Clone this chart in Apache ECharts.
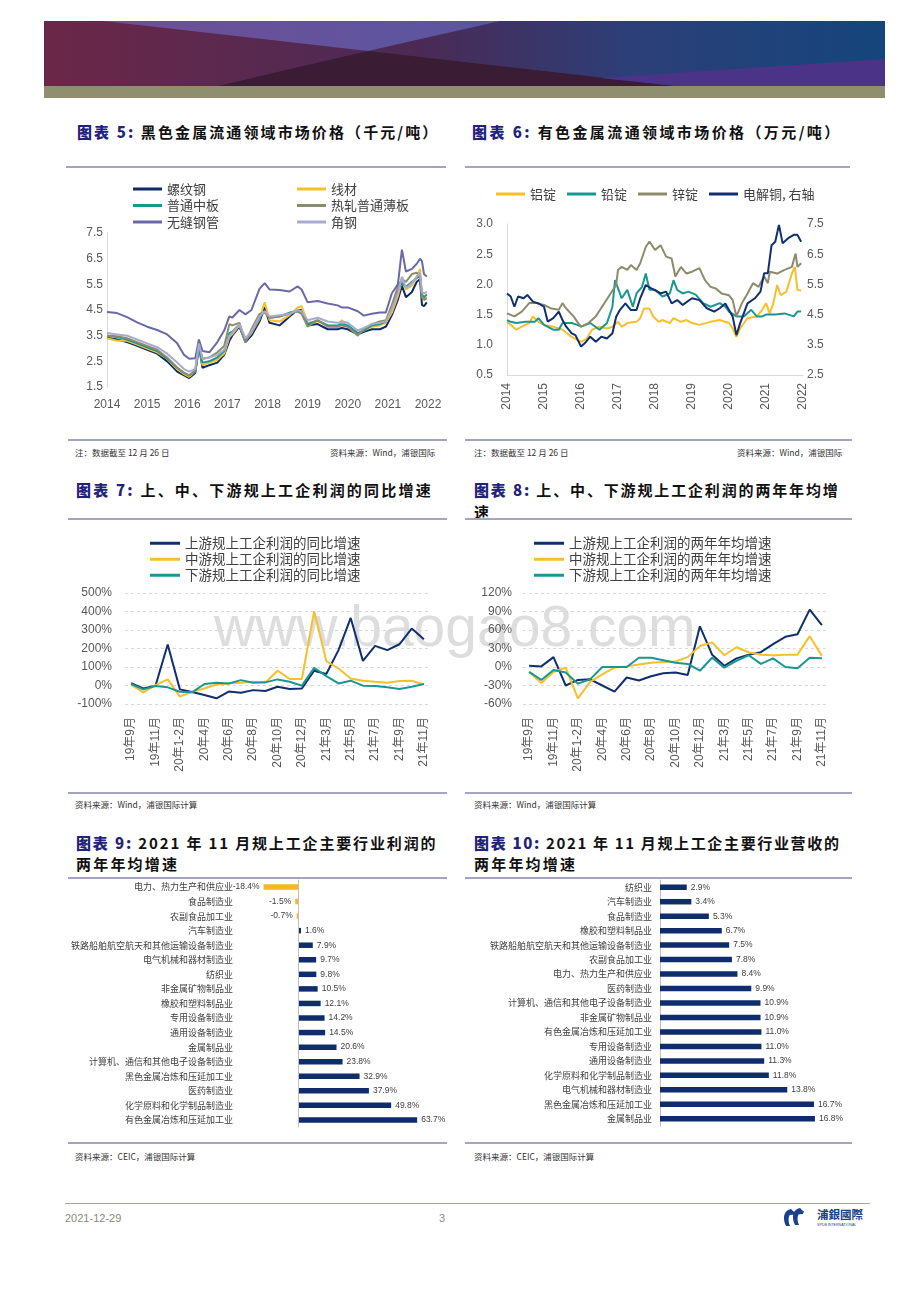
<!DOCTYPE html>
<html><head><meta charset="utf-8">
<script src="https://cdn.jsdelivr.net/npm/echarts@6/dist/echarts.min.js"></script>
<style>
html,body{margin:0;padding:0;background:#fff;width:920px;height:1302px;overflow:hidden;position:relative;font-family:"Noto Sans CJK SC","Liberation Sans",sans-serif;}
.t{position:absolute;white-space:nowrap;line-height:1;transform:translateY(-50%);}
.title{font-size:15px;font-weight:bold;color:#111;letter-spacing:2.2px;}
.title b{color:#1f237a;}
.note{font-size:8.5px;color:#333;}
.hl{position:absolute;height:1.5px;background:#a3a3c2;}
#chart{position:absolute;left:0;top:0;width:920px;height:1302px;}
#wm{position:absolute;left:214px;top:598px;font-family:"Liberation Sans",sans-serif;font-size:57px;color:#dddddd;line-height:1;}
</style></head>
<body>
<svg style="position:absolute;left:0;top:0" width="920" height="110">
 <defs>
  <linearGradient id="bg" x1="0" x2="1" y1="0" y2="0">
   <stop offset="0" stop-color="#6b2748"/><stop offset="0.45" stop-color="#4a2a55"/><stop offset="0.7" stop-color="#2c3f78"/><stop offset="1" stop-color="#15457c"/>
  </linearGradient>
  <linearGradient id="tp" x1="0" x2="1" y1="0" y2="0">
   <stop offset="0" stop-color="#6e4f94"/><stop offset="1" stop-color="#5a56a2"/>
  </linearGradient>
 </defs>
 <rect x="44" y="21" width="841" height="65" fill="url(#bg)"/>
 <polygon points="103,21 500,21 368,51" fill="url(#tp)"/>
 <polygon points="218,86 676,86 368,51" fill="#3a1c34"/>
 <polygon points="600,78 885,59 885,86 676,86" fill="#4b3488"/>
 <rect x="44" y="86" width="841" height="12" fill="#8f8f6f"/>
</svg>
<div id="wm">www.baogao8.com</div>

<div class="t title" style="left:77px;top:131px;letter-spacing:2.1px"><b>图表 5:</b> 黑色金属流通领域市场价格（千元/吨）</div>
<div class="t title" style="left:472px;top:131px;letter-spacing:2.4px"><b>图表 6:</b> 有色金属流通领域市场价格（万元/吨）</div>
<div class="hl" style="left:66px;top:166px;width:380px"></div>
<div class="hl" style="left:465px;top:166px;width:385px"></div>

<div class="hl" style="left:68px;top:439px;width:379px"></div>
<div class="hl" style="left:465px;top:439px;width:387px"></div>
<div class="t note" style="left:75px;top:452px">注：数据截至 12 月 26 日</div>
<div class="t note" style="left:330px;top:452px;width:103px;text-align:right">资料来源：Wind，浦银国际</div>
<div class="t note" style="left:474px;top:452px">注：数据截至 12 月 26 日</div>
<div class="t note" style="left:737px;top:452px;width:103px;text-align:right">资料来源：Wind，浦银国际</div>

<div class="t title" style="left:76px;top:489px;letter-spacing:2.2px"><b>图表 7:</b> 上、中、下游规上工企利润的同比增速</div>
<div class="t title" style="left:474px;top:489px;letter-spacing:1.85px"><b>图表 8:</b> 上、中、下游规上工企利润的两年年均增</div>
<div class="t title" style="left:474px;top:511px">速</div>
<div class="hl" style="left:68px;top:518px;width:379px"></div>
<div class="hl" style="left:465px;top:518px;width:387px"></div>

<div class="hl" style="left:68px;top:792px;width:379px"></div>
<div class="hl" style="left:465px;top:792px;width:387px"></div>
<div class="t note" style="left:75px;top:804px">资料来源：Wind，浦银国际计算</div>
<div class="t note" style="left:474px;top:804px">资料来源：Wind，浦银国际计算</div>

<div class="t title" style="left:76px;top:842px;letter-spacing:1.85px"><b>图表 9:</b> 2021 年 11 月规上工企主要行业利润的</div>
<div class="t title" style="left:76px;top:863px">两年年均增速</div>
<div class="t title" style="left:474px;top:842px;letter-spacing:1.65px"><b>图表 10:</b> 2021 年 11 月规上工企主要行业营收的</div>
<div class="t title" style="left:474px;top:863px">两年年均增速</div>
<div class="hl" style="left:68px;top:877px;width:379px"></div>
<div class="hl" style="left:465px;top:877px;width:387px"></div>

<div class="hl" style="left:68px;top:1142px;width:379px"></div>
<div class="hl" style="left:465px;top:1142px;width:387px"></div>
<div class="t note" style="left:75px;top:1156px">资料来源：CEIC，浦银国际计算</div>
<div class="t note" style="left:474px;top:1156px">资料来源：CEIC，浦银国际计算</div>

<div style="position:absolute;left:65px;top:1203px;width:805px;height:1px;background:#a9a994"></div>
<div class="t" style="left:65px;top:1218px;font-family:'Liberation Sans Narrow','Liberation Sans';font-size:11px;color:#8a8a78">2021-12-29</div>
<div class="t" style="left:439px;top:1218px;font-family:'Liberation Sans';font-size:11px;color:#8a8a78">3</div>
<svg style="position:absolute;left:780px;top:1204px" width="95" height="28">
 <path d="M11,5 C4,6 2,14 6,22 L10,22 C7,15 9,9 14,8 Z" fill="#1c3f8c"/>
 <path d="M20,4 C13,5 11,13 15,21 L19,21 C16,14 18,8 23,7 Z" fill="#1c3f8c"/>
 <path d="M11,8 L24,7 L23,10 L10,11 Z" fill="#1c3f8c"/>
 <text x="37" y="15" font-family="Noto Sans CJK TC" font-weight="bold" font-size="11.5" fill="#1c3f8c">浦銀國際</text>
 <text x="37" y="22" font-family="Liberation Sans" font-size="3.6" fill="#1c3f8c">SPDB INTERNATIONAL</text>
</svg>

<div id="chart"></div>
<script>
// ---------- Chart 5: 黑色金属流通领域市场价格 (千元/吨) ----------
const steelX = [2014.0,2014.25,2014.5,2014.75,2015.0,2015.25,2015.5,2015.75,2015.92,2016.05,2016.2,2016.29,2016.38,2016.55,2016.75,2016.92,2017.05,2017.12,2017.3,2017.45,2017.6,2017.8,2017.93,2018.05,2018.3,2018.55,2018.75,2018.85,2019.0,2019.25,2019.5,2019.75,2019.85,2020.0,2020.25,2020.4,2020.6,2020.8,2020.95,2021.1,2021.25,2021.35,2021.45,2021.6,2021.72,2021.8,2021.85,2021.9,2021.97];
const rebar = [3.42,3.35,3.25,3.1,2.95,2.8,2.5,2.1,1.95,1.85,2.05,3.1,2.25,2.35,2.45,2.75,3.3,3.5,3.85,3.25,3.5,4.05,4.6,4.0,3.9,4.25,4.5,4.5,3.9,3.95,3.75,3.75,3.8,3.75,3.55,3.65,3.75,3.75,3.85,4.3,4.9,5.45,5.0,5.2,5.6,5.7,4.7,4.65,4.8];
const wireRod = [3.4,3.3,3.3,3.15,3.0,2.85,2.6,2.2,2.0,1.9,2.1,3.15,2.35,2.45,2.55,2.8,3.45,3.55,3.9,3.3,3.6,4.15,4.8,4.1,4.05,4.3,4.6,4.65,4.0,4.05,3.9,3.85,4.1,3.85,3.6,3.7,3.85,3.9,4.0,4.4,5.05,5.65,5.3,5.45,5.8,6.1,5.0,4.9,5.0];
const midPlate = [3.5,3.45,3.35,3.2,3.05,2.9,2.6,2.25,2.05,1.95,2.1,3.0,2.45,2.5,2.65,2.9,3.6,3.65,3.95,3.3,3.65,4.2,4.45,4.2,4.25,4.4,4.45,4.4,3.95,4.1,3.9,3.9,3.95,3.9,3.6,3.7,3.9,3.95,4.05,4.6,5.3,5.55,5.4,5.6,5.75,5.8,5.1,5.0,5.1];
const hotSheet = [3.5,3.48,3.4,3.25,3.1,2.95,2.65,2.25,2.05,1.95,2.15,3.15,2.6,2.65,2.85,3.1,3.95,3.9,4.0,3.25,3.75,4.35,4.4,4.2,4.25,4.35,4.45,4.35,3.85,4.1,3.85,3.85,3.9,3.85,3.5,3.75,3.95,4.05,4.1,4.7,5.4,5.7,5.6,5.9,5.95,5.85,5.0,4.9,4.95];
const seamlessPipe = [4.42,4.38,4.22,4.02,3.85,3.72,3.55,3.2,2.75,2.6,2.62,3.35,2.9,2.85,3.25,3.7,4.25,4.2,4.5,4.33,4.5,5.32,5.55,5.3,5.28,5.22,5.42,5.3,4.8,4.85,4.75,4.68,4.6,4.6,4.45,4.28,4.35,4.4,4.4,5.15,5.5,6.85,6.0,6.1,6.3,6.5,6.4,5.9,5.8];
const angleSteel = [3.6,3.55,3.5,3.35,3.2,3.05,2.8,2.45,2.2,2.1,2.2,3.2,2.6,2.65,2.75,2.95,3.5,3.6,3.95,3.4,3.65,4.25,4.45,4.25,4.3,4.35,4.5,4.45,4.1,4.2,4.05,4.0,4.05,4.0,3.7,3.8,3.95,4.0,4.05,4.55,5.15,5.8,5.35,5.55,5.8,5.95,5.2,5.15,5.2];

// ---------- Chart 6: 有色金属流通领域市场价格 (万元/吨) ----------
const alX = [2014.0,2014.1,2014.25,2014.4,2014.6,2014.7,2014.85,2015.0,2015.25,2015.5,2015.75,2015.9,2016.0,2016.15,2016.3,2016.5,2016.7,2016.85,2017.0,2017.1,2017.25,2017.5,2017.6,2017.7,2017.85,2017.95,2018.1,2018.2,2018.4,2018.5,2018.7,2018.85,2019.0,2019.2,2019.5,2019.75,2020.0,2020.1,2020.2,2020.3,2020.5,2020.75,2020.9,2021.0,2021.1,2021.2,2021.3,2021.4,2021.55,2021.7,2021.78,2021.85,2021.95];
const alY = [1.38,1.33,1.25,1.3,1.36,1.47,1.38,1.33,1.3,1.25,1.13,1.08,1.05,1.1,1.25,1.3,1.27,1.3,1.38,1.3,1.36,1.38,1.44,1.6,1.6,1.47,1.38,1.41,1.36,1.44,1.38,1.41,1.36,1.33,1.38,1.41,1.36,1.27,1.13,1.27,1.44,1.47,1.58,1.69,1.52,1.69,1.99,1.82,1.88,2.18,2.29,1.91,1.9];
const pbX = [2014.0,2014.1,2014.25,2014.5,2014.75,2014.85,2015.0,2015.25,2015.4,2015.5,2015.75,2015.9,2016.0,2016.25,2016.5,2016.7,2016.85,2016.92,2017.1,2017.25,2017.4,2017.5,2017.65,2017.75,2017.85,2018.0,2018.2,2018.4,2018.5,2018.6,2018.75,2018.9,2019.1,2019.3,2019.5,2019.75,2019.9,2020.0,2020.2,2020.4,2020.6,2020.75,2020.9,2021.0,2021.25,2021.5,2021.75,2021.85,2021.95];
const pbY = [1.41,1.38,1.36,1.38,1.38,1.44,1.33,1.25,1.25,1.36,1.36,1.33,1.3,1.36,1.25,1.36,1.63,2.07,1.77,1.91,1.63,1.85,1.96,2.18,1.91,1.91,1.8,1.85,2.07,1.91,1.85,1.88,1.83,1.69,1.63,1.69,1.63,1.55,1.47,1.47,1.58,1.47,1.47,1.5,1.5,1.52,1.47,1.55,1.55];
const znX = [2014.0,2014.2,2014.4,2014.6,2014.8,2015.0,2015.2,2015.4,2015.5,2015.6,2015.8,2015.9,2016.0,2016.2,2016.4,2016.6,2016.8,2016.95,2017.0,2017.1,2017.25,2017.35,2017.5,2017.6,2017.75,2017.85,2018.0,2018.15,2018.3,2018.45,2018.55,2018.7,2018.85,2019.0,2019.2,2019.35,2019.5,2019.65,2019.8,2020.0,2020.1,2020.2,2020.35,2020.5,2020.65,2020.8,2020.95,2021.05,2021.1,2021.3,2021.5,2021.7,2021.8,2021.85,2021.95];
const znY = [1.52,1.47,1.55,1.69,1.69,1.66,1.6,1.58,1.69,1.6,1.47,1.38,1.3,1.36,1.47,1.66,1.85,1.99,2.24,2.29,2.24,2.32,2.24,2.35,2.62,2.71,2.57,2.65,2.46,2.43,2.13,2.29,2.18,2.21,2.27,2.07,1.96,1.93,1.85,1.82,1.74,1.47,1.69,1.85,2.02,1.96,2.13,2.02,2.21,2.18,2.24,2.29,2.51,2.29,2.35];
const cuX = [2014.0,2014.1,2014.2,2014.3,2014.45,2014.55,2014.7,2014.85,2015.0,2015.1,2015.25,2015.4,2015.5,2015.6,2015.75,2015.85,2016.0,2016.1,2016.25,2016.4,2016.55,2016.7,2016.85,2016.95,2017.05,2017.2,2017.35,2017.5,2017.6,2017.75,2017.9,2018.0,2018.15,2018.3,2018.45,2018.6,2018.75,2019.0,2019.2,2019.4,2019.6,2019.75,2019.9,2020.0,2020.1,2020.2,2020.3,2020.5,2020.7,2020.85,2020.95,2021.05,2021.15,2021.25,2021.35,2021.45,2021.6,2021.75,2021.85,2021.95];
const cuY = [5.2,5.1,4.76,5.1,5.04,5.15,4.93,4.87,4.76,4.27,4.38,4.6,4.32,4.1,3.88,3.82,3.44,3.55,3.77,3.6,3.77,3.71,3.88,4.43,4.65,4.87,4.65,4.65,5.04,5.48,5.37,5.31,5.2,5.26,4.87,4.98,4.82,5.04,4.98,4.71,4.6,4.71,4.87,4.65,4.43,3.82,4.21,4.87,5.04,5.26,5.87,5.87,6.8,6.91,7.47,6.86,7.03,7.14,7.14,6.91];

// ---------- Charts 7 & 8 ----------
const months = ['19年9月','19年10月','19年11月','19年12月','20年1-2月','20年3月','20年4月','20年5月','20年6月','20年7月','20年8月','20年9月','20年10月','20年11月','20年12月','21年1-2月','21年3月','21年4月','21年5月','21年6月','21年7月','21年8月','21年9月','21年10月','21年11月'];
const upYoY = [12,-16,-1,222,-21,-35,-51,-69,-33,-39,-25,-30,-7,-19,-16,80,62,191,365,133,214,191,223,308,250];
const midYoY = [5,-37,2,33,-60,-34,-16,5,11,15,20,15,80,35,35,401,132,92,38,26,20,15,24,26,5];
const downYoY = [8,-21,-3,-10,-34,-37,8,15,11,29,15,17,33,20,-1,96,51,11,26,-1,-3,-10,-19,-7,8];
const up2Y = [2,1,16,-30,-21,-20,-30,-40,-17,-22,-15,-10,-9,-13,66,20,2,14,20,24,37,49,53,93,68];
const mid2Y = [-8,-26,-8,-1,-51,-24,-12,-1,1,4,7,8,9,16,34,40,19,32,24,20,19,20,20,50,18];
const down2Y = [-8,-21,-5,-9,-27,-20,0,0,0,15,15,11,7,5,-6,15,-1,10,19,5,14,0,-2,15,14];

// ---------- Chart 9: 利润两年年均增速 ----------
const profitInd = ['电力、热力生产和供应业','食品制造业','农副食品加工业','汽车制造业','铁路船舶航空航天和其他运输设备制造业','电气机械和器材制造业','纺织业','非金属矿物制品业','橡胶和塑料制品业','专用设备制造业','通用设备制造业','金属制品业','计算机、通信和其他电子设备制造业','黑色金属冶炼和压延加工业','医药制造业','化学原料和化学制品制造业','有色金属冶炼和压延加工业'];
const profitVal = [-18.4,-1.5,-0.7,1.6,7.9,9.7,9.8,10.5,12.1,14.2,14.5,20.6,23.8,32.9,37.9,49.8,63.7];

// ---------- Chart 10: 营收两年年均增速 ----------
const revInd = ['纺织业','汽车制造业','食品制造业','橡胶和塑料制品业','铁路船舶航空航天和其他运输设备制造业','农副食品加工业','电力、热力生产和供应业','医药制造业','计算机、通信和其他电子设备制造业','非金属矿物制品业','有色金属冶炼和压延加工业','专用设备制造业','通用设备制造业','化学原料和化学制品制造业','电气机械和器材制造业','黑色金属冶炼和压延加工业','金属制品业'];
const revVal = [2.9,3.4,5.3,6.7,7.5,7.8,8.4,9.9,10.9,10.9,11.0,11.0,11.3,11.8,13.8,16.7,16.8];

// colours
const NAVY='#102f6e', YEL='#f5c02a', TEAL='#1a9890', OLIVE='#8c8c6c', PURP='#6a69a6', LAV='#aaaad0';

function zip(xs, ys){ return xs.map((x,i)=>[x, ys[i]]); }
function line(name, data, color, xi, yi, w){
  return {type:'line', name, data, xAxisIndex:xi, yAxisIndex:yi, symbol:'none', showSymbol:false,
    lineStyle:{color, width:w||2}, itemStyle:{color}, emphasis:{disabled:true}, animation:false};
}
const FONT = "'Liberation Sans','Noto Sans CJK SC',sans-serif";
const axLbl = {color:'#595959', fontSize:12, fontFamily:FONT};
const noAx = {axisLine:{show:false}, axisTick:{show:false}, splitLine:{show:false}};
const greyLine = {show:true, lineStyle:{color:'#d9d9d9', width:1}};
const legBase = {orient:'vertical', icon:'rect', itemWidth:29, itemHeight:3, itemGap:2.5, padding:0, selectedMode:false,
  itemStyle:{borderWidth:0}, textStyle:{fontSize:13, lineHeight:14, color:'#404040', fontFamily:"'Noto Sans CJK SC'"}};
const legBig = Object.assign({}, legBase, {itemWidth:30, itemGap:1.5, textStyle:{fontSize:13.5, lineHeight:14.5, color:'#404040', fontFamily:"'Noto Sans CJK SC'"}});

const chart = echarts.init(document.getElementById('chart'), null, {renderer:'canvas'});
const option = {
  animation:false,
  textStyle:{fontFamily:FONT},
  grid:[
    {left:107, top:233, width:321, height:154, outerBoundsMode:'none'},
    {left:507, top:224, width:296, height:151, outerBoundsMode:'none'},
    {left:125, top:593, width:305, height:111, outerBoundsMode:'none'},
    {left:523, top:593, width:305, height:111, outerBoundsMode:'none'},
    {left:260.6, top:879.7, width:159, height:247.5, outerBoundsMode:'none'},
    {left:660, top:880, width:166, height:246, outerBoundsMode:'none'}
  ],
  legend:[
    Object.assign({}, legBase, {left:133, top:182, data:['螺纹钢','普通中板','无缝钢管']}),
    Object.assign({}, legBase, {left:297, top:182, data:['线材','热轧普通薄板','角钢']}),
    Object.assign({}, legBase, {orient:'horizontal', left:496, top:187, itemGap:11, data:['铝锭','铅锭','锌锭','电解铜, 右轴']}),
    Object.assign({}, legBig, {left:150, top:536, data:['上游规上工企利润的同比增速','中游规上工企利润的同比增速','下游规上工企利润的同比增速']}),
    Object.assign({}, legBig, {left:534, top:536, data:['上游规上工企利润的两年年均增速','中游规上工企利润的两年年均增速','下游规上工企利润的两年年均增速']})
  ],
  xAxis:[
    Object.assign({gridIndex:0, type:'value', min:2014, max:2022, interval:1, axisLabel:Object.assign({margin:12, formatter:v=>v.toFixed(0)}, axLbl)}, noAx),
    Object.assign({}, noAx, {gridIndex:1, type:'value', min:2014, max:2022, interval:1, axisLine:greyLine, axisLabel:Object.assign({rotate:90, margin:8, formatter:v=>v.toFixed(0)}, axLbl)}),
    Object.assign({}, noAx, {gridIndex:2, type:'category', data:months, boundaryGap:true, axisLabel:Object.assign({rotate:90, interval:1, margin:13}, axLbl)}),
    Object.assign({}, noAx, {gridIndex:3, type:'category', data:months, boundaryGap:true, axisLabel:Object.assign({rotate:90, interval:1, margin:13}, axLbl)}),
    {gridIndex:4, type:'value', min:-20, max:65, show:false},
    {gridIndex:5, type:'value', min:0, max:18, show:false}
  ],
  yAxis:[
    Object.assign({}, noAx, {gridIndex:0, type:'value', min:1.5, max:7.5, interval:1, axisLine:greyLine, axisLabel:Object.assign({margin:4, formatter:v=>v.toFixed(1)}, axLbl)}),
    Object.assign({}, noAx, {gridIndex:1, type:'value', min:0.5, max:3.0, interval:0.5, axisLine:greyLine, axisLabel:Object.assign({margin:14, formatter:v=>v.toFixed(1)}, axLbl)}),
    Object.assign({}, noAx, {gridIndex:1, type:'value', position:'right', min:2.5, max:7.5, interval:1, axisLabel:Object.assign({margin:4, formatter:v=>v.toFixed(1)}, axLbl)}),
    Object.assign({}, noAx, {gridIndex:2, type:'value', min:-100, max:500, interval:100, splitLine:{show:true, lineStyle:{color:'#d9d9d9', type:[3,3]}}, axisLabel:Object.assign({margin:13, formatter:v=>v+'%'}, axLbl)}),
    Object.assign({}, noAx, {gridIndex:3, type:'value', min:-60, max:120, interval:30, splitLine:{show:true, lineStyle:{color:'#d9d9d9', type:[3,3]}}, axisLabel:Object.assign({margin:11, formatter:v=>v+'%'}, axLbl)}),
    Object.assign({}, noAx, {gridIndex:4, type:'category', data:profitInd, inverse:true, axisLabel:{margin:27.6, fontSize:9, color:'#404040', fontFamily:"'Noto Sans CJK SC'"}}),
    Object.assign({}, noAx, {gridIndex:5, type:'category', data:revInd, inverse:true, axisLine:{show:true, onZero:false, lineStyle:{color:'#bfbfbf'}}, axisLabel:{margin:8, fontSize:9, color:'#404040', fontFamily:"'Noto Sans CJK SC'"}})
  ],
  series:[
    line('螺纹钢', zip(steelX, rebar), '#0f2a66', 0, 0),
    line('线材', zip(steelX, wireRod), YEL, 0, 0),
    line('普通中板', zip(steelX, midPlate), TEAL, 0, 0),
    line('热轧普通薄板', zip(steelX, hotSheet), OLIVE, 0, 0),
    line('无缝钢管', zip(steelX, seamlessPipe), PURP, 0, 0),
    line('角钢', zip(steelX, angleSteel), LAV, 0, 0),
    line('铝锭', zip(alX, alY), YEL, 1, 1),
    line('铅锭', zip(pbX, pbY), TEAL, 1, 1),
    line('锌锭', zip(znX, znY), OLIVE, 1, 1),
    line('电解铜, 右轴', zip(cuX, cuY), NAVY, 1, 2),
    line('上游规上工企利润的同比增速', upYoY, NAVY, 2, 3),
    line('中游规上工企利润的同比增速', midYoY, YEL, 2, 3),
    line('下游规上工企利润的同比增速', downYoY, TEAL, 2, 3),
    line('上游规上工企利润的两年年均增速', up2Y, NAVY, 3, 4),
    line('中游规上工企利润的两年年均增速', mid2Y, YEL, 3, 4),
    line('下游规上工企利润的两年年均增速', down2Y, TEAL, 3, 4),
    {type:'bar', xAxisIndex:4, yAxisIndex:5, barWidth:5.5, animation:false,
     data: profitVal.map(v=>({value:v, itemStyle:{color: v<0 ? '#f5b820' : '#0f2d6c'}, label:{position: v<0 ? 'left' : 'right'}})),
     label:{show:true, distance:4, fontSize:8.5, color:'#404040', fontFamily:"'Liberation Sans'", formatter:p=>p.value.toFixed(1)+'%'},
     markLine:{silent:true, symbol:'none', label:{show:false}, lineStyle:{color:'#bfbfbf', width:1, type:'solid'}, data:[{xAxis:0}]}},
    {type:'bar', xAxisIndex:5, yAxisIndex:6, barWidth:5.5, animation:false,
     data: revVal, itemStyle:{color:'#0f2d6c'},
     label:{show:true, position:'right', distance:4, fontSize:8.5, color:'#404040', fontFamily:"'Liberation Sans'", formatter:p=>p.value.toFixed(1)+'%'}}
  ]
};
chart.setOption(option);
</script>
</body></html>
